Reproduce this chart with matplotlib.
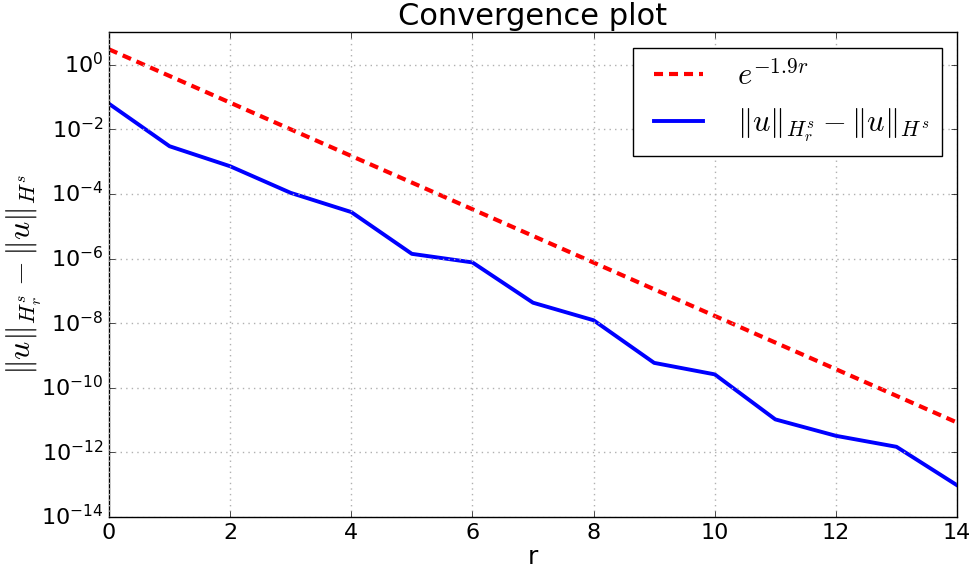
import numpy as np
import matplotlib
matplotlib.use('Agg')
import matplotlib.pyplot as plt

plt.style.use('classic')

# data
r = np.arange(0, 15)
# reference line (straight on the log axis)
ref = np.array([3.0, 0.449, 0.0671, 1.00e-2, 1.50e-3, 2.25e-4, 3.36e-5, 5.02e-6,
                7.51e-7, 1.12e-7, 1.68e-8, 2.51e-9, 3.76e-10, 5.63e-11, 8.4e-12])
# error of the norm
err = np.array([6.2e-2, 3.0e-3, 7.2e-4, 1.08e-4, 2.75e-5, 1.4e-6, 7.6e-7, 4.3e-8,
                1.23e-8, 5.9e-10, 2.6e-10, 1.05e-11, 3.26e-12, 1.49e-12, 9.6e-14])

fig = plt.figure(figsize=(9.73, 5.69), dpi=100, facecolor='white')
ax = fig.add_axes([0.112, 0.0914, 0.8716, 0.8516])

ax.semilogy(r, ref, color='red', lw=3, dashes=(6.5, 4.3), label=r'$e^{-1.9r}$')
ax.semilogy(r, err, color='blue', lw=2.8, label=r'$\Vert u\Vert_{H^s_r}-\Vert u\Vert_{H^s}$')

ax.set_xlim(0, 14)
ax.set_ylim(1e-14, 1e1)
ax.set_yticks([10.0**k for k in range(-14, 1, 2)])
ax.minorticks_off()
ax.grid(True, color='#b0b0b0', linestyle=':', linewidth=1)
ax.tick_params(labelsize=16)

ax.set_title('Convergence plot', fontsize=22)
ax.set_xlabel('r', fontsize=18, labelpad=2)
ax.set_ylabel(r'$\Vert u\Vert_{H^s_r}-\Vert u\Vert_{H^s}$', fontsize=23)
ax.yaxis.set_label_coords(-0.077, 0.5)

leg = ax.legend(loc='upper right', fontsize=22, handlelength=2.2)
leg.get_frame().set_linewidth(1)

fig.savefig('out.png', dpi=100, facecolor='white')
